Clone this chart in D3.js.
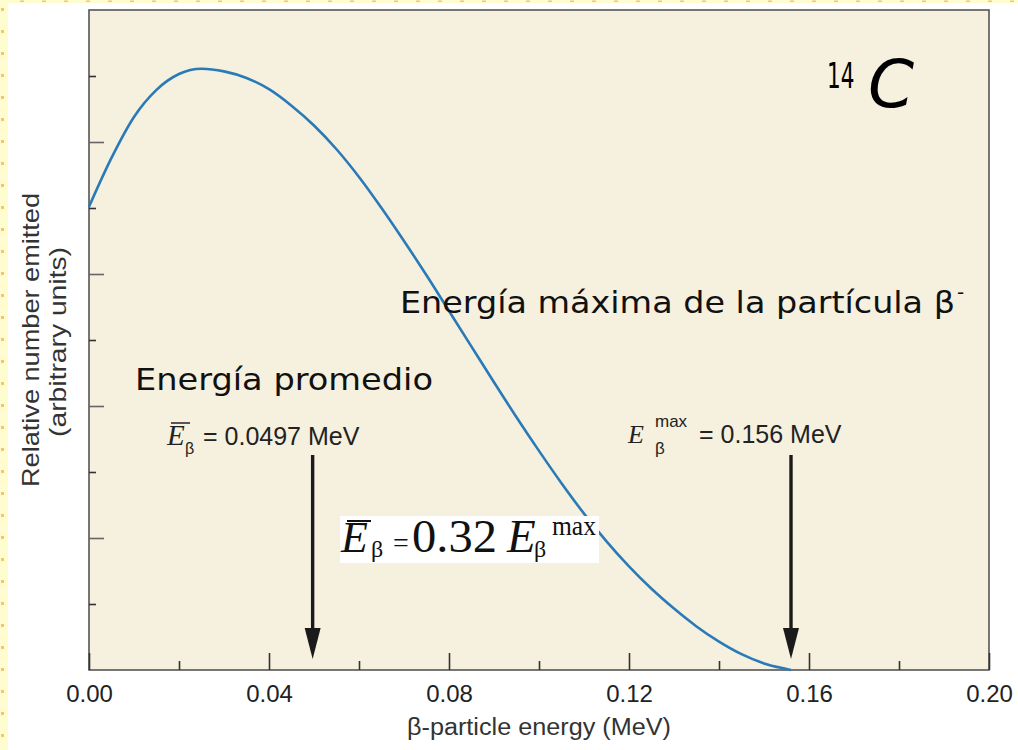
<!DOCTYPE html>
<html>
<head>
<meta charset="utf-8">
<script src="https://cdn.jsdelivr.net/npm/d3@7"></script>
<style>
  html, body { margin: 0; padding: 0; background: #fff; }
  svg { display: block; }
</style>
</head>
<body>
<svg id="chart" width="1018" height="750"></svg>
<script>
// Beta spectrum of carbon-14: relative number emitted vs. particle energy
const energies = [0, 0.005, 0.010, 0.015, 0.020, 0.025, 0.030, 0.035, 0.040, 0.045,
  0.050, 0.055, 0.060, 0.065, 0.070, 0.075, 0.080, 0.085, 0.090, 0.095,
  0.100, 0.105, 0.110, 0.115, 0.120, 0.125, 0.130, 0.135, 0.140, 0.145,
  0.150, 0.155, 0.156];
const counts = [7.02, 7.76, 8.38, 8.79, 9.03, 9.11, 9.07, 8.97, 8.80, 8.55,
  8.25, 7.89, 7.47, 7.00, 6.50, 5.98, 5.44, 4.90, 4.36, 3.83,
  3.32, 2.83, 2.37, 1.95, 1.57, 1.23, 0.93, 0.66, 0.43, 0.24,
  0.10, 0.015, 0];
const xTicks = [0, 0.04, 0.08, 0.12, 0.16, 0.20];
const xMinorTicks = [0.02, 0.06, 0.10, 0.14, 0.18];
const yMajorTicks = [2, 4, 6, 8];
const yMinorTicks = [1, 3, 5, 7, 9];
const meanEnergy = 0.0497;
const maxEnergy = 0.156;

const svg = d3.select("#chart");
const W = 1018, H = 750;
const m = { left: 89, right: 29, top: 10, bottom: 80 };

// page frame: pale yellow slide border
svg.append("rect").attr("width", W).attr("height", H).attr("fill", "#fffdd0");
svg.append("rect").attr("x", 8).attr("y", 3).attr("width", W - 8).attr("height", H - 3).attr("fill", "#ffffff");
const dotG = svg.append("g").attr("fill", "#f3c76a");
d3.range(8, H, 22).forEach(y => dotG.append("rect").attr("x", 1).attr("y", y).attr("width", 3).attr("height", 3));
d3.range(20, W, 22).forEach(x => dotG.append("rect").attr("x", x).attr("y", 0.5).attr("width", 4).attr("height", 1.5));

const x = d3.scaleLinear().domain([0, 0.20]).range([m.left, W - m.right]);
const y = d3.scaleLinear().domain([0, 10]).range([H - m.bottom, m.top]);

// plot panel
svg.append("rect")
  .attr("x", x(0)).attr("y", y(10))
  .attr("width", x(0.20) - x(0)).attr("height", y(0) - y(10))
  .attr("fill", "#f6f0df").attr("stroke", "#555").attr("stroke-width", 1.6);

const sans = "Liberation Sans, Arial, sans-serif";
const serif = "Liberation Serif, Times New Roman, serif";
const caption = "DejaVu Sans, Noto Sans, sans-serif";

// bottom axis: inward ticks, labels below
const xAxis = d3.axisBottom(x).tickValues(xTicks).tickFormat(d3.format(".2f")).tickSize(-17).tickPadding(15);
const gx = svg.append("g").attr("transform", `translate(0,${y(0)})`).call(xAxis);
gx.select(".domain").remove();
gx.selectAll(".tick line").attr("stroke", "#333").attr("stroke-width", 1.6);
gx.selectAll(".tick text").attr("font-family", sans).attr("font-size", 24).attr("fill", "#222");
const xMinor = d3.axisBottom(x).tickValues(xMinorTicks).tickFormat("").tickSize(-9);
const gxm = svg.append("g").attr("transform", `translate(0,${y(0)})`).call(xMinor);
gxm.select(".domain").remove();
gxm.selectAll(".tick line").attr("stroke", "#333").attr("stroke-width", 1.6);

// left axis: inward ticks, no labels
const yAxis = d3.axisLeft(y).tickValues(yMajorTicks).tickFormat("").tickSize(-15);
const gy = svg.append("g").attr("transform", `translate(${x(0)},0)`).call(yAxis);
gy.select(".domain").remove();
gy.selectAll(".tick line").attr("stroke", "#666").attr("stroke-width", 1.6);
const yMinor = d3.axisLeft(y).tickValues(yMinorTicks).tickFormat("").tickSize(-7);
const gym = svg.append("g").attr("transform", `translate(${x(0)},0)`).call(yMinor);
gym.select(".domain").remove();
gym.selectAll(".tick line").attr("stroke", "#333").attr("stroke-width", 1.6);

// axis titles
svg.append("text").attr("x", x(0.10)).attr("y", 735).attr("text-anchor", "middle")
  .attr("font-family", sans).attr("font-size", 23).attr("fill", "#333")
  .attr("textLength", 264).attr("lengthAdjust", "spacingAndGlyphs")
  .text("β-particle energy (MeV)");
svg.append("text").attr("transform", `translate(39,340) rotate(-90)`)
  .attr("text-anchor", "middle").attr("font-family", sans).attr("font-size", 24).attr("fill", "#333")
  .attr("textLength", 294).attr("lengthAdjust", "spacingAndGlyphs")
  .text("Relative number emitted");
svg.append("text").attr("transform", `translate(66,342) rotate(-90)`)
  .attr("text-anchor", "middle").attr("font-family", sans).attr("font-size", 24).attr("fill", "#333")
  .attr("textLength", 190).attr("lengthAdjust", "spacingAndGlyphs")
  .text("(arbitrary units)");

// spectrum curve
const line = d3.line().x((d, i) => x(energies[i])).y(d => y(d)).curve(d3.curveMonotoneX);
svg.append("path").datum(counts).attr("d", line)
  .attr("fill", "none").attr("stroke", "#2a7ab8").attr("stroke-width", 2.6);

// arrows marking mean and maximum energies
const arrowG = svg.append("g").attr("fill", "#1a1a1a").attr("stroke", "#1a1a1a");
[meanEnergy, maxEnergy].forEach(e => {
  const cx = x(e);
  arrowG.append("line").attr("x1", cx).attr("x2", cx).attr("y1", 455).attr("y2", 632).attr("stroke-width", 3.4);
  arrowG.append("path").attr("stroke", "none")
    .attr("d", `M${cx - 8},628 L${cx + 8},628 L${cx},659 Z`);
});

// energy annotations
const t1 = svg.append("text").attr("y", 445).attr("font-size", 25).attr("fill", "#222").attr("font-family", sans);
t1.append("tspan").attr("x", 167).attr("font-family", serif).attr("font-style", "italic").attr("font-size", 29).text("E");
t1.append("tspan").attr("x", 185).attr("font-size", 16).attr("dy", 9).text("β");
t1.append("tspan").attr("x", 203).attr("dy", -9).text("= 0.0497 MeV");
svg.append("line").attr("x1", 171).attr("x2", 190).attr("y1", 423).attr("y2", 423).attr("stroke", "#222").attr("stroke-width", 1.5);

const t2 = svg.append("text").attr("y", 443).attr("font-size", 25).attr("fill", "#222").attr("font-family", sans);
t2.append("tspan").attr("x", 628).attr("font-family", serif).attr("font-style", "italic").attr("font-size", 26).text("E");
t2.append("tspan").attr("x", 655).attr("font-size", 17).attr("dy", -16).text("max");
t2.append("tspan").attr("x", 655).attr("font-size", 17).attr("dy", 27).text("β");
t2.append("tspan").attr("x", 699).attr("dy", -11).text("= 0.156 MeV");

// Spanish captions
svg.append("text").attr("x", 135).attr("y", 390).attr("font-family", caption).attr("font-size", 30).attr("fill", "#111")
  .attr("textLength", 298).attr("lengthAdjust", "spacingAndGlyphs")
  .text("Energía promedio");
const t3 = svg.append("text").attr("y", 313).attr("font-family", caption).attr("font-size", 30).attr("fill", "#111");
t3.append("tspan").attr("x", 400).attr("textLength", 555).attr("lengthAdjust", "spacingAndGlyphs")
  .text("Energía máxima de la partícula β");
t3.append("tspan").attr("x", 957).attr("font-size", 20).attr("dy", -14).text("-");

// isotope label: narrow mass number as superscript, then the element symbol
svg.append("text").attr("transform", "translate(827,88) scale(0.6,1)")
  .attr("font-family", caption).attr("font-size", 36).attr("fill", "#000").text("14");
svg.append("text").attr("x", 868).attr("y", 107).attr("font-family", caption).attr("font-size", 66)
  .attr("font-style", "italic").attr("fill", "#000").text("C");

// relation between mean and maximum energy
svg.append("rect").attr("x", 340).attr("y", 516).attr("width", 259).attr("height", 47).attr("fill", "#fff");
const fy = 552;
svg.append("text").attr("x", 341).attr("y", fy).attr("font-family", serif).attr("font-size", 44)
  .attr("font-style", "italic").attr("fill", "#111").text("E");
svg.append("text").attr("x", 371).attr("y", fy + 5).attr("font-family", serif).attr("font-size", 24).attr("fill", "#111").text("β");
svg.append("text").attr("x", 393).attr("y", fy).attr("font-family", serif).attr("font-size", 28).attr("fill", "#111").text("=");
svg.append("text").attr("x", 412).attr("y", fy).attr("font-family", serif).attr("font-size", 46).attr("fill", "#111")
  .attr("textLength", 85).attr("lengthAdjust", "spacingAndGlyphs").text("0.32");
svg.append("text").attr("x", 507).attr("y", fy).attr("font-family", serif).attr("font-size", 47)
  .attr("font-style", "italic").attr("fill", "#111").text("E");
svg.append("text").attr("x", 534).attr("y", fy + 5).attr("font-family", serif).attr("font-size", 24).attr("fill", "#111").text("β");
svg.append("text").attr("x", 552).attr("y", 535).attr("font-family", serif).attr("font-size", 27).attr("fill", "#111")
  .attr("textLength", 44).attr("lengthAdjust", "spacingAndGlyphs").text("max");
svg.append("line").attr("x1", 347).attr("x2", 371).attr("y1", 521).attr("y2", 521).attr("stroke", "#111").attr("stroke-width", 2);
</script>
</body>
</html>
